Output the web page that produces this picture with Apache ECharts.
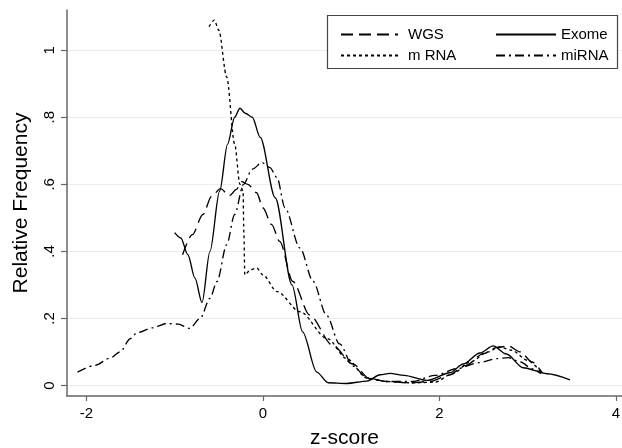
<!DOCTYPE html>
<html>
<head>
<meta charset="utf-8">
<script src="https://cdn.jsdelivr.net/npm/echarts@6/dist/echarts.min.js"></script>
<style>html,body{margin:0;padding:0;background:#fff;}#c{width:622px;height:448px;}</style>
</head>
<body>
<div id="c"></div>
<script>
// Data (z-score, relative frequency)
const wgsX = [-0.91,-0.80,-0.68,-0.58,-0.48,-0.38,-0.30,-0.24,-0.17,-0.07,0.00,0.10,0.19,0.34,0.53,0.79,1.02,1.21,1.40,1.65,1.90,2.10,2.30,2.50,2.65,2.78,2.92,3.05,3.17];
const wgsY = [0.39,0.45,0.51,0.565,0.587,0.566,0.585,0.608,0.60,0.575,0.53,0.48,0.43,0.31,0.21,0.12,0.064,0.02,0.012,0.008,0.012,0.03,0.06,0.095,0.113,0.118,0.10,0.07,0.037];

const exomeX = [-1.00,-0.93,-0.85,-0.77,-0.69,-0.60,-0.49,-0.40,-0.32,-0.26,-0.20,-0.12,-0.03,0.14,0.33,0.45,0.61,0.74,0.95,1.18,1.33,1.44,1.60,1.86,2.12,2.27,2.46,2.61,2.76,2.95,3.22,3.48];
const exomeY = [0.456,0.44,0.39,0.32,0.247,0.40,0.58,0.72,0.80,0.827,0.812,0.80,0.74,0.56,0.30,0.16,0.04,0.008,0.006,0.013,0.032,0.036,0.03,0.015,0.038,0.064,0.097,0.118,0.094,0.053,0.035,0.017];

const mrnaX = [-0.61,-0.55,-0.50,-0.41,-0.32,-0.26,-0.225,-0.215,-0.205,-0.14,-0.07,0.00,0.16,0.42,0.73,0.95,1.18,1.40,1.70,1.95,2.15,2.35,2.55,2.68,2.82,3.00,3.15];
const mrnaY = [1.07,1.09,1.06,0.92,0.72,0.60,0.58,0.45,0.33,0.345,0.35,0.33,0.28,0.22,0.14,0.08,0.022,0.012,0.008,0.01,0.035,0.07,0.10,0.115,0.105,0.075,0.04];

const mirnaX = [-2.10,-1.90,-1.73,-1.62,-1.50,-1.43,-1.25,-1.09,-0.96,-0.83,-0.71,-0.60,-0.52,-0.41,-0.32,-0.22,-0.12,-0.01,0.08,0.16,0.25,0.42,0.57,0.72,0.87,1.02,1.18,1.40,1.70,1.95,2.20,2.45,2.65,2.78,2.92,3.05,3.15];
const mirnaY = [0.04,0.06,0.082,0.10,0.14,0.157,0.172,0.185,0.183,0.17,0.20,0.26,0.31,0.42,0.51,0.60,0.645,0.665,0.65,0.62,0.53,0.41,0.31,0.21,0.124,0.058,0.023,0.012,0.012,0.03,0.05,0.068,0.08,0.083,0.07,0.05,0.035];

const xTicks = [-2, 0, 2, 4];
const yTicks = [0, 0.2, 0.4, 0.6, 0.8, 1];

const seriesNames = ['WGS', 'Exome', 'm RNA', 'miRNA'];

function pairs(xs, ys) { return xs.map((x, i) => [x, ys[i]]); }
function yFmt(v) {
  const r = Math.round(v * 10) / 10;
  if (r === 0) return '0';
  if (r === 1) return '1';
  return String(r).replace(/^0\./, '.');
}

const FONT = 'Liberation Sans, Arial, Helvetica, sans-serif';
const chart = echarts.init(document.getElementById('c'), null, { renderer: 'canvas' });

function lineSeries(name, xs, ys, dash) {
  return {
    name: name,
    type: 'line',
    data: pairs(xs, ys),
    symbol: 'none',
    smooth: 0.3,
    smoothMonotone: 'x',
    lineStyle: { color: '#000', width: 1.35, type: dash },
    itemStyle: { color: '#000' },
    animation: false,
    z: 5
  };
}

const legendCommon = {
  orient: 'vertical',
  top: 22,
  itemHeight: 14, itemGap: 6,
  itemStyle: { opacity: 0 },
  selectedMode: false
};

chart.setOption({
  animation: false,
  backgroundColor: '#fff',
  grid: { left: 67, right: 0, top: 10, bottom: 52, containLabel: false, outerBoundsMode: 'none' },
  xAxis: {
    type: 'value',
    min: -2.22,
    max: 4.07,
    name: 'z-score',
    nameLocation: 'middle',
    nameGap: 32,
    nameTextStyle: { fontFamily: FONT, fontSize: 21, color: '#000' },
    axisLine: { show: true, onZero: false, lineStyle: { color: '#666', width: 1.5 } },
    axisTick: { show: true, length: 5, lineStyle: { color: '#666', width: 1.2 }, customValues: xTicks },
    axisLabel: { fontFamily: FONT, fontSize: 15, color: '#000', margin: 10, customValues: xTicks, formatter: v => String(v) },
    splitLine: { show: false }
  },
  yAxis: {
    type: 'value',
    min: -0.0314,
    max: 1.12,
    name: 'Relative Frequency',
    nameLocation: 'middle',
    nameGap: 35,
    nameRotate: 90,
    nameTextStyle: { fontFamily: FONT, fontSize: 21, color: '#000' },
    axisLine: { show: true, onZero: false, lineStyle: { color: '#666', width: 1.5 } },
    axisTick: { show: true, length: 6, lineStyle: { color: '#666', width: 1.2 }, customValues: yTicks },
    axisLabel: { fontFamily: FONT, fontSize: 15, color: '#000', margin: 10, rotate: 90, customValues: yTicks, formatter: yFmt },
    splitLine: { show: true, lineStyle: { color: '#ececec', width: 1.2 } }
  },
  legend: [
    Object.assign({}, legendCommon, {
      data: [seriesNames[0], seriesNames[2]],
      left: 335,
      itemWidth: 57,
      textStyle: { fontFamily: FONT, fontSize: 15, color: '#000', padding: [0, 0, 0, 5] }
    }),
    Object.assign({}, legendCommon, {
      data: [seriesNames[1], seriesNames[3]],
      left: 490,
      itemWidth: 60,
      textStyle: { fontFamily: FONT, fontSize: 15, color: '#000', padding: [0, 0, 0, 0] }
    })
  ],
  graphic: [
    {
      type: 'rect',
      shape: { x: 327.5, y: 15.5, width: 290, height: 53 },
      style: { fill: '#fff', stroke: '#444', lineWidth: 1.2 },
      z: 1
    }
  ],
  series: [
    lineSeries(seriesNames[0], wgsX, wgsY, [12, 6]),
    lineSeries(seriesNames[1], exomeX, exomeY, 'solid'),
    lineSeries(seriesNames[2], mrnaX, mrnaY, [3, 3]),
    lineSeries(seriesNames[3], mirnaX, mirnaY, [9, 4, 2, 4])
  ]
});
</script>
</body>
</html>
